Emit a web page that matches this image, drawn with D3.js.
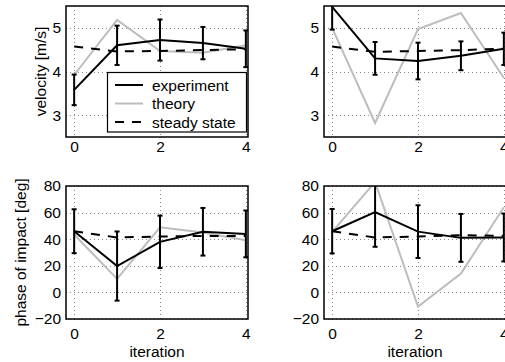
<!DOCTYPE html>
<html>
<head>
<meta charset="utf-8">
<script src="https://cdn.jsdelivr.net/npm/d3@7"></script>
<style>
  html, body { margin: 0; padding: 0; background: #fff; overflow: hidden; }
  svg { display: block; font-family: "Liberation Sans", Arial, Helvetica, sans-serif; }
</style>
</head>
<body>
<svg id="chart" width="505" height="362"></svg>
<script>
// ---------- data ----------
const iterations = [0, 1, 2, 3, 4];
const xTicks = [0, 2, 4];
const velTicks = [3, 4, 5];
const phaseTicks = [-20, 0, 20, 40, 60, 80];
const seriesNames = ["experiment", "theory", "steady state"];

// velocity, left panel
const expVelL = [3.58, 4.60, 4.72, 4.65, 4.52];
const errVelL = [0.35, 0.45, 0.47, 0.37, 0.42];
const theoryVelL = [3.92, 5.18, 4.47, 4.43, 4.60];
const steadyVelL = [4.57, 4.46, 4.47, 4.49, 4.51];

// velocity, right panel
const expVelR = [5.48, 4.30, 4.24, 4.36, 4.52];
const errVelR = [0.52, 0.375, 0.42, 0.33, 0.37];
const theoryVelR = [5.00, 2.82, 4.97, 5.34, 3.85];
const steadyVelR = [4.57, 4.45, 4.47, 4.49, 4.52];

// phase of impact, left panel
const expPhL = [46, 19.8, 38, 45.6, 44];
const errPhL = [16.5, 26, 19.7, 17.9, 17.6];
const theoryPhL = [43.5, 10.2, 48.9, 45, 39.2];
const steadyPhL = [46, 41.3, 42, 42.5, 42.5];

// phase of impact, right panel
const expPhR = [46, 60.3, 45.7, 41, 41.3];
const errPhR = [16.7, 26, 19.8, 18, 18];
const theoryPhR = [45.5, 83, -10.6, 14.2, 64];
const steadyPhR = [46, 41.3, 42, 43, 42.5];

// ---------- drawing ----------
const svg = d3.select("#chart");
const FS = 15.5;
const fmt = d3.format("d");

const panels = [
  { x0: 66,  x1: 248, y0: 6,   y1: 137, dom: [2.5, 5.5], ticks: velTicks,
    exp: expVelL, err: errVelL, th: theoryVelL, ss: steadyVelL,
    ylabel: "velocity [m/s]", ylabelX: 46, legend: true, xpad: 4 },
  { x0: 324, x1: 506, y0: 6,   y1: 137, dom: [2.5, 5.5], ticks: velTicks,
    exp: expVelR, err: errVelR, th: theoryVelR, ss: steadyVelR, xpad: 4 },
  { x0: 66,  x1: 248, y0: 186, y1: 319, dom: [-20, 80], ticks: phaseTicks,
    exp: expPhL, err: errPhL, th: theoryPhL, ss: steadyPhL,
    ylabel: "phase of impact [deg]", ylabelX: 26, xlabel: "iteration", xpad: 9 },
  { x0: 324, x1: 506, y0: 186, y1: 319, dom: [-20, 80], ticks: phaseTicks,
    exp: expPhR, err: errPhR, th: theoryPhR, ss: steadyPhR, xlabel: "iteration", xpad: 9 }
];

const defs = svg.append("defs");

panels.forEach((p, i) => {
  const x = d3.scaleLinear().domain([-0.19, 4.05]).range([p.x0, p.x1]);
  const y = d3.scaleLinear().domain(p.dom).range([p.y1, p.y0]);
  const g = svg.append("g");

  defs.append("clipPath").attr("id", "clip" + i)
    .append("rect").attr("x", p.x0).attr("y", p.y0)
    .attr("width", p.x1 - p.x0).attr("height", p.y1 - p.y0);

  // grid
  const grid = g.append("g").attr("stroke", "#888").attr("stroke-width", 1)
    .attr("stroke-dasharray", "1,3");
  xTicks.forEach(t => grid.append("line")
    .attr("x1", Math.round(x(t)) + 0.5).attr("x2", Math.round(x(t)) + 0.5)
    .attr("y1", p.y0).attr("y2", p.y1));
  p.ticks.forEach(t => grid.append("line")
    .attr("y1", Math.round(y(t)) + 0.5).attr("y2", Math.round(y(t)) + 0.5)
    .attr("x1", p.x0).attr("x2", p.x1));

  // axes (tick labels only, via d3 axes)
  const ax = g.append("g").attr("transform", `translate(${p.x0},0)`)
    .call(d3.axisLeft(y).tickValues(p.ticks).tickFormat(fmt).tickSize(0).tickPadding(5));
  const bx = g.append("g").attr("transform", `translate(0,${p.y1})`)
    .call(d3.axisBottom(x).tickValues(xTicks).tickFormat(fmt).tickSize(0).tickPadding(p.xpad));
  [ax, bx].forEach(a => {
    a.select(".domain").remove();
    a.selectAll("text").attr("font-size", FS).attr("fill", "#000")
      .attr("font-family", "Liberation Sans, Arial, sans-serif");
  });

  const data = g.append("g").attr("clip-path", `url(#clip${i})`);
  const line = vals => d3.line().x((d, k) => x(iterations[k])).y(d => y(d))(vals);

  // theory
  data.append("path").attr("d", line(p.th)).attr("fill", "none")
    .attr("stroke", "#bdbdbd").attr("stroke-width", 2);
  // steady state
  data.append("path").attr("d", line(p.ss)).attr("fill", "none")
    .attr("stroke", "#000").attr("stroke-width", 2).attr("stroke-dasharray", "9,8");
  // experiment
  data.append("path").attr("d", line(p.exp)).attr("fill", "none")
    .attr("stroke", "#000").attr("stroke-width", 2);
  // error bars
  p.exp.forEach((v, k) => {
    const cx = x(iterations[k]);
    const lo = y(v - p.err[k]), hi = y(v + p.err[k]);
    data.append("line").attr("x1", cx).attr("x2", cx).attr("y1", lo).attr("y2", hi)
      .attr("stroke", "#000").attr("stroke-width", 2);
    [lo, hi].forEach(yy => data.append("line")
      .attr("x1", cx - 2.5).attr("x2", cx + 2.5).attr("y1", yy).attr("y2", yy)
      .attr("stroke", "#000").attr("stroke-width", 2));
  });

  // frame
  g.append("rect").attr("x", p.x0).attr("y", p.y0)
    .attr("width", p.x1 - p.x0).attr("height", p.y1 - p.y0)
    .attr("fill", "none").attr("stroke", "#000").attr("stroke-width", 1.5);

  if (p.ylabel) {
    g.append("text").attr("transform", `translate(${p.ylabelX},${(p.y0 + p.y1) / 2}) rotate(-90)`)
      .attr("text-anchor", "middle").attr("font-size", FS).text(p.ylabel);
  }
  if (p.xlabel) {
    g.append("text").attr("x", (p.x0 + p.x1) / 2).attr("y", 356.5)
      .attr("text-anchor", "middle").attr("font-size", FS).text(p.xlabel);
  }

  if (p.legend) {
    const lg = g.append("g");
    lg.append("rect").attr("x", 107.5).attr("y", 72.5).attr("width", 139).attr("height", 59.5)
      .attr("fill", "#fff").attr("stroke", "#000").attr("stroke-width", 1.2);
    const styles = [
      { c: "#000", d: null },
      { c: "#bdbdbd", d: null },
      { c: "#000", d: "9,8" }
    ];
    seriesNames.forEach((name, k) => {
      const yy = 85 + k * 18.5;
      lg.append("line").attr("x1", 115).attr("x2", 143).attr("y1", yy).attr("y2", yy)
        .attr("stroke", styles[k].c).attr("stroke-width", 2)
        .attr("stroke-dasharray", styles[k].d);
      lg.append("text").attr("x", 152).attr("y", yy + 5.5).attr("font-size", FS).text(name);
    });
  }
});
</script>
</body>
</html>
